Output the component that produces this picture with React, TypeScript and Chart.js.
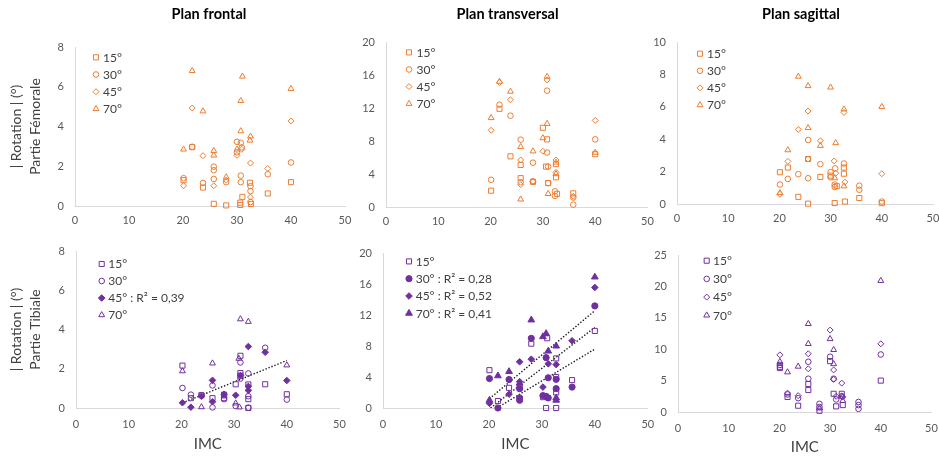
import React, { useEffect, useRef } from 'react';
import { Chart, registerables } from 'chart.js';
import { drawPoint } from 'chart.js/helpers';

Chart.register(...registerables);

const ORANGE = '#ED7D31';
const PURPLE = '#7030A0';
const FONT = 'Lato, "Open Sans", sans-serif';

type Pt = [number, number];

// ---------- labels ----------
const panelTitles = ['Plan frontal', 'Plan transversal', 'Plan sagittal'];
const yTitleFem = ['| Rotation | (°)', 'Partie Fémorale'];
const yTitleTib = ['| Rotation | (°)', 'Partie Tibiale'];
const xTitle = 'IMC';
const legendPlain = ['15°', '30°', '45°', '70°'];
const legendTibFrontal = ['15°', '30°', '45° : R² = 0,39', '70°'];
const legendTibTrans = ['15°', '30° : R² = 0,28', '45° : R² = 0,52', '70° : R² = 0,41'];

// ---------- axes ----------
const xMin = 0;
const xMax = 50;
const xStep = 10;
const yMaxFem = [8, 20, 10];
const yStepFem = [2, 4, 2];
const yMaxTib = [8, 20, 25];
const yStepTib = [2, 4, 5];

// ---------- Partie Fémorale, Plan frontal ----------
const femFront15: Pt[] = [[20.1, 1.3], [21.7, 2.96], [23.7, 0.93], [25.7, 0.11], [28, 0.03], [30.6, 0.17], [30.6, 0.05], [31.0, 0.46], [32.4, 1.17], [32.6, 0.1], [35.7, 0.63], [40, 1.2]];
const femFront30: Pt[] = [[20.1, 1.4], [21.7, 2.98], [23.7, 1.16], [25.7, 1.98], [25.7, 1.8], [25.7, 1.36], [28, 1.2], [30.0, 3.23], [30.0, 2.7], [30.7, 3.18], [30.9, 2.95], [30.7, 1.53], [30.7, 1.2], [32.5, 1.0], [32.5, 0.75], [32.5, 0.2], [35.7, 1.6], [40, 2.19]];
const femFront45: Pt[] = [[20.1, 1.02], [21.7, 4.93], [23.7, 2.53], [25.7, 1.02], [28, 1.3], [30.0, 2.55], [30.9, 2.85], [32.5, 2.16], [32.5, 0.45], [35.7, 1.89], [40, 4.28]];
const femFront70: Pt[] = [[20.1, 2.85], [21.7, 6.8], [23.7, 4.77], [25.7, 2.78], [25.7, 2.55], [28, 1.45], [30.0, 2.85], [30.7, 5.29], [30.7, 3.77], [31.0, 6.52], [32.5, 3.5], [32.4, 3.3], [40, 5.9]];

// ---------- Partie Fémorale, Plan transversal ----------
const femTrans15: Pt[] = [[20.1, 1.98], [21.7, 11.9], [23.8, 6.14], [25.75, 5.1], [25.75, 3.5], [28.1, 3.05], [30.0, 9.6], [30.8, 8.2], [30.6, 4.9], [31.0, 2.9], [32.5, 5.2], [32.5, 3.6], [32.7, 1.6], [35.8, 1.65], [40, 6.4]];
const femTrans30: Pt[] = [[20.1, 3.3], [21.7, 12.4], [23.8, 11.07], [25.75, 8.16], [25.75, 3.0], [28.1, 5.37], [28.1, 3.1], [30.8, 14.1], [30.8, 6.6], [31.0, 4.9], [31.0, 2.9], [32.3, 1.9], [32.3, 1.35], [35.8, 1.15], [35.8, 0.28], [40, 8.2]];
const femTrans45: Pt[] = [[20.1, 9.3], [21.7, 15.1], [23.8, 13.0], [25.75, 5.7], [25.75, 2.7], [28.1, 3.1], [30.0, 6.76], [30.8, 15.4], [32.5, 5.7], [32.5, 4.2], [35.8, 1.3], [40, 10.5]];
const femTrans70: Pt[] = [[20.1, 10.8], [21.7, 15.2], [23.8, 14.0], [25.75, 7.3], [25.75, 0.93], [28.1, 6.76], [30.0, 8.36], [30.8, 15.8], [30.8, 10.1], [31.0, 1.6], [32.5, 5.4], [32.5, 4.0], [40, 6.6]];

// ---------- Partie Fémorale, Plan sagittal ----------
const femSag15: Pt[] = [[20.1, 1.96], [21.65, 2.25], [23.7, 0.44], [25.6, 2.78], [25.6, 0.02], [28, 1.67], [30.0, 1.75], [30.8, 0.06], [31.2, 1.1], [32.6, 2.25], [32.6, 1.87], [32.8, 0.15], [35.6, 0.37], [40, 0.05]];
const femSag30: Pt[] = [[20.1, 1.2], [21.65, 1.55], [23.7, 1.84], [25.6, 3.95], [25.6, 1.59], [28, 2.46], [30.0, 1.97], [30.0, 1.65], [30.9, 2.2], [30.8, 1.2], [30.8, 1.05], [32.6, 2.5], [35.6, 1.13], [35.6, 0.88], [40, 0.15]];
const femSag45: Pt[] = [[20.1, 0.6], [21.65, 2.63], [23.7, 4.6], [25.6, 5.74], [25.6, 2.78], [28, 3.9], [30.7, 2.66], [31.0, 1.9], [32.6, 5.65], [32.8, 1.35], [40, 1.87]];
const femSag70: Pt[] = [[20.1, 0.69], [21.65, 3.33], [23.7, 7.87], [25.6, 7.29], [25.6, 4.7], [28, 3.6], [30.0, 7.2], [31.0, 3.77], [30.8, 1.6], [32.6, 5.85], [32.6, 1.1], [40, 6.0]];

// ---------- Partie Tibiale, Plan frontal ----------
const tibFront15: Pt[] = [[20.2, 2.16], [21.8, 0.5], [23.8, 0.65], [25.9, 0.5], [28.1, 0.68], [28.1, 0.5], [30.3, 1.21], [31.2, 2.66], [31.2, 1.78], [31.2, 1.65], [32.7, 1.2], [32.7, 0.45], [32.7, 0.0], [35.9, 1.21], [40, 0.7]];
const tibFront30: Pt[] = [[20.2, 1.02], [21.8, 0.68], [23.8, 0.65], [25.9, 1.15], [25.9, 0.03], [28.1, 0.45], [30.3, 0.1], [31.2, 2.32], [31.2, 1.5], [32.7, 1.76], [32.7, 0.6], [32.7, 0.02], [35.9, 3.07], [40, 0.43]];
const tibFront45: Pt[] = [[20.2, 0.27], [21.8, 0.04], [23.8, 0.6], [25.9, 1.41], [25.9, 0.32], [28.1, 0.7], [30.3, 0.65], [31.2, 1.65], [32.7, 3.13], [32.7, 1.1], [32.7, 0.9], [35.9, 2.84], [40, 1.4]];
const tibFront70: Pt[] = [[20.2, 1.88], [23.8, 0.05], [25.9, 2.28], [28.1, 0.6], [30.3, 0.24], [30.9, 2.52], [31.2, 4.53], [31.0, 0.04], [32.7, 4.4], [40, 2.18]];
const tibFront45Trend: Pt[] = [[20.2, 0.26], [40, 2.42]];

// ---------- Partie Tibiale, Plan transversal ----------
const tibTrans15: Pt[] = [[20.1, 4.88], [21.7, 0.9], [23.8, 2.6], [25.8, 2.8], [28, 8.3], [30.2, 1.4], [31.0, 9.0], [30.8, 0], [32.7, 6.4], [32.7, 4.0], [32.7, 2.0], [32.7, 0], [35.7, 3.6], [40, 9.94]];
const tibTrans30: Pt[] = [[20.1, 3.8], [21.7, 0], [23.8, 3.67], [25.8, 2.5], [25.8, 1.3], [25.8, 1.0], [28, 8.99], [30.2, 1.6], [30.8, 6.5], [30.8, 1.5], [31.2, 1.3], [31.2, 3.9], [32.7, 3.7], [32.7, 2.5], [35.7, 2.7], [40, 13.17]];
const tibTrans45: Pt[] = [[20.1, 0.6], [23.8, 1.78], [25.8, 5.96], [25.8, 3.4], [28, 6.3], [30.2, 2.7], [31.2, 5.7], [32.7, 5.6], [35.7, 8.68], [40, 15.55]];
const tibTrans70: Pt[] = [[20.1, 1.0], [21.7, 4.15], [23.8, 4.7], [25.8, 3.2], [28, 11.36], [30.2, 9.2], [30.8, 9.6], [31.2, 7.34], [32.7, 7.99], [32.7, 1.3], [32.7, 1.0], [40, 16.9]];
const tibTransTrendA: Pt[] = [[20.1, 1.2], [40, 12.56]];
const tibTransTrendB: Pt[] = [[20.3, 0], [40, 10.4]];
const tibTransTrendC: Pt[] = [[21.5, 0], [40, 7.6]];

// ---------- Partie Tibiale, Plan sagittal ----------
const tibSag15: Pt[] = [[20.1, 7.2], [20.1, 7.0], [21.6, 2.4], [23.7, 1.0], [25.7, 4.45], [25.7, 3.5], [27.9, 0.2], [30.0, 8.1], [30.7, 2.9], [31.2, 0.9], [32.3, 2.9], [32.5, 1.1], [40, 5.0]];
const tibSag30: Pt[] = [[20.1, 7.5], [21.6, 2.8], [23.7, 2.2], [25.7, 8.0], [25.7, 5.3], [27.9, 1.3], [27.9, 0.8], [30.0, 8.8], [30.7, 5.3], [31.2, 2.0], [32.3, 2.5], [35.6, 1.6], [35.6, 1.1], [35.6, 0.5], [40, 9.16]];
const tibSag45: Pt[] = [[20.1, 9.1], [21.6, 3.0], [23.7, 2.6], [25.7, 9.27], [25.7, 6.88], [30.0, 13.04], [30.7, 6.7], [30.7, 5.2], [31.2, 2.5], [32.3, 4.6], [32.5, 2.4], [40, 10.86]];
const tibSag70: Pt[] = [[20.1, 8.0], [21.6, 6.35], [23.7, 7.25], [25.7, 14.04], [25.7, 10.86], [27.9, 0.6], [30.0, 11.64], [30.7, 9.9], [30.7, 7.65], [32.3, 2.5], [32.5, 1.8], [40, 20.9]];

// ---------- marker styles ----------
const MARKERS = [
  { pointStyle: 'rect', radius: 3.6, filledRadius: 3.6 },
  { pointStyle: 'circle', radius: 2.8, filledRadius: 3.1 },
  { pointStyle: 'rectRot', radius: 3.0, filledRadius: 3.3 },
  { pointStyle: 'triangle', radius: 3.4, filledRadius: 3.9 },
];

interface Spec {
  left: number; top: number; w: number; h: number;
  pad: { top: number; right: number; bottom: number; left: number };
  yW: number; xH: number; xTickPad: number; yTickPad: number;
  yMax: number; yStep: number;
  series: Pt[][]; color: string; filled: boolean[]; trends: Pt[][];
  legendText: string[];
  legend: { dx: number; dy: number; pitch: number; textDx: number };
  title?: { text: string; x: number; y: number };
  yTitle?: string[];
  xTitle?: string; xTitlePadBottom?: number;
}

const specs: Spec[] = [
  {
    left: 0, top: 0, w: 360, h: 232, pad: { top: 47, right: 15, bottom: 0, left: 0 }, yW: 75, xH: 26, xTickPad: 8, yTickPad: 11,
    yMax: yMaxFem[0], yStep: yStepFem[0], series: [femFront15, femFront30, femFront45, femFront70], color: ORANGE,
    filled: [false, false, false, false], trends: [], legendText: legendPlain,
    legend: { dx: 21, dy: 10.3, pitch: 17.2, textDx: 28 },
    title: { text: panelTitles[0], x: 209, y: 14 }, yTitle: yTitleFem,
  },
  {
    left: 355, top: 0, w: 310, h: 232, pad: { top: 42, right: 17.5, bottom: 0, left: 0 }, yW: 31, xH: 25, xTickPad: 8, yTickPad: 11,
    yMax: yMaxFem[1], yStep: yStepFem[1], series: [femTrans15, femTrans30, femTrans45, femTrans70], color: ORANGE,
    filled: [false, false, false, false], trends: [], legendText: legendPlain,
    legend: { dx: 23, dy: 10.4, pitch: 17.1, textDx: 30.5 },
    title: { text: panelTitles[1], x: 152.5, y: 14 },
  },
  {
    left: 640, top: 0, w: 310, h: 232, pad: { top: 42, right: 17, bottom: 0, left: 0 }, yW: 37, xH: 28, xTickPad: 8, yTickPad: 11,
    yMax: yMaxFem[2], yStep: yStepFem[2], series: [femSag15, femSag30, femSag45, femSag70], color: ORANGE,
    filled: [false, false, false, false], trends: [], legendText: legendPlain,
    legend: { dx: 23, dy: 11.7, pitch: 17.1, textDx: 30 },
    title: { text: panelTitles[2], x: 161, y: 14 },
  },
  {
    left: 0, top: 232, w: 360, h: 225, pad: { top: 19, right: 20.5, bottom: 0, left: 0 }, yW: 76, xH: 49, xTickPad: 10, yTickPad: 11,
    yMax: yMaxTib[0], yStep: yStepTib[0], series: [tibFront15, tibFront30, tibFront45, tibFront70], color: PURPLE,
    filled: [false, false, true, false], trends: [tibFront45Trend], legendText: legendTibFrontal,
    legend: { dx: 25.7, dy: 13, pitch: 17, textDx: 32.3 },
    yTitle: yTitleTib, xTitle, xTitlePadBottom: 4.3,
  },
  {
    left: 355, top: 232, w: 310, h: 225, pad: { top: 21, right: 17.2, bottom: 0, left: 0 }, yW: 28, xH: 49, xTickPad: 10, yTickPad: 11,
    yMax: yMaxTib[1], yStep: yStepTib[1], series: [tibTrans15, tibTrans30, tibTrans45, tibTrans70], color: PURPLE,
    filled: [false, true, true, true], trends: [tibTransTrendA, tibTransTrendB, tibTransTrendC], legendText: legendTibTrans,
    legend: { dx: 26, dy: 8.4, pitch: 17.3, textDx: 32.7 },
    xTitle, xTitlePadBottom: 4.3,
  },
  {
    left: 640, top: 232, w: 310, h: 225, pad: { top: 23, right: 18.5, bottom: 0, left: 0 }, yW: 38, xH: 45, xTickPad: 9.5, yTickPad: 11,
    yMax: yMaxTib[2], yStep: yStepTib[2], series: [tibSag15, tibSag30, tibSag45, tibSag70], color: PURPLE,
    filled: [false, false, false, false], trends: [], legendText: legendPlain,
    legend: { dx: 28.7, dy: 5.7, pitch: 18.2, textDx: 35 },
    xTitle, xTitlePadBottom: 1,
  },
];

function overlayPlugin(spec: Spec) {
  return {
    id: 'overlay',
    afterDraw(chart: any) {
      const ctx: CanvasRenderingContext2D = chart.ctx;
      const ca = chart.chartArea;
      ctx.save();
      if (spec.title) {
        ctx.font = `bold 14.5px ${FONT}`;
        ctx.fillStyle = '#000000';
        ctx.textAlign = 'center';
        ctx.textBaseline = 'middle';
        ctx.fillText(spec.title.text, spec.title.x, spec.title.y);
      }
      spec.legendText.forEach((text, i) => {
        const m = MARKERS[i];
        const filled = spec.filled[i];
        const x = ca.left + spec.legend.dx;
        const y = ca.top + spec.legend.dy + i * spec.legend.pitch;
        ctx.fillStyle = filled ? spec.color : 'rgba(0,0,0,0)';
        ctx.strokeStyle = spec.color;
        ctx.lineWidth = 1;
        drawPoint(ctx, { pointStyle: m.pointStyle as any, rotation: 0, radius: filled ? m.filledRadius : m.radius, borderWidth: 1 }, x, y);
        ctx.fillStyle = '#404040';
        ctx.font = `12px ${FONT}`;
        ctx.textAlign = 'left';
        ctx.textBaseline = 'middle';
        ctx.fillText(text, ca.left + spec.legend.textDx, y + 0.5);
      });
      ctx.restore();
    },
  };
}

function buildConfig(spec: Spec): any {
  const datasets: any[] = spec.series.map((pts, i) => {
    const m = MARKERS[i];
    const filled = spec.filled[i];
    return {
      label: spec.legendText[i],
      data: pts.map(([x, y]) => ({ x, y })),
      pointStyle: m.pointStyle,
      pointRadius: filled ? m.filledRadius : m.radius,
      pointHoverRadius: filled ? m.filledRadius : m.radius,
      borderColor: spec.color,
      backgroundColor: filled ? spec.color : 'rgba(0,0,0,0)',
      pointBorderWidth: 1,
      borderWidth: 1,
      showLine: false,
      clip: false,
    };
  });
  spec.trends.forEach((t) => {
    datasets.push({
      label: 'trend',
      data: t.map(([x, y]) => ({ x, y })),
      showLine: true,
      borderColor: '#1a1a1a',
      borderWidth: 1.4,
      borderDash: [1.4, 1.8],
      pointRadius: 0,
      pointHoverRadius: 0,
      fill: false,
      clip: 0,
    });
  });

  const tickFont = { family: FONT, size: 11 };
  return {
    type: 'scatter',
    data: { datasets },
    plugins: [overlayPlugin(spec)],
    options: {
      responsive: false,
      maintainAspectRatio: false,
      animation: false,
      devicePixelRatio: 1,
      events: [],
      layout: { padding: spec.pad },
      plugins: { legend: { display: false }, tooltip: { enabled: false }, title: { display: false } },
      scales: {
        x: {
          type: 'linear',
          position: 'bottom',
          min: xMin,
          max: xMax,
          grid: { display: false, drawTicks: false },
          border: { display: true, color: '#D9D9D9', width: 1 },
          ticks: { stepSize: xStep, font: tickFont, color: '#595959', padding: spec.xTickPad, maxRotation: 0 },
          title: spec.xTitle
            ? { display: true, text: spec.xTitle, color: '#404040', font: { family: FONT, size: 15, lineHeight: 1.2 }, padding: { top: 0, bottom: spec.xTitlePadBottom || 0 } }
            : { display: false },
          afterFit: (s: any) => { s.height = spec.xH; },
        },
        y: {
          type: 'linear',
          position: 'left',
          min: 0,
          max: spec.yMax,
          grid: { display: false, drawTicks: false },
          border: { display: true, color: '#D9D9D9', width: 1 },
          ticks: { stepSize: spec.yStep, font: tickFont, color: '#595959', padding: spec.yTickPad },
          title: spec.yTitle
            ? { display: true, text: spec.yTitle, color: '#404040', font: { family: FONT, size: 14, lineHeight: '19px' }, padding: { top: 6.5, bottom: 0 } }
            : { display: false },
          afterFit: (s: any) => { s.width = spec.yW; },
        },
      },
    },
  };
}

function Panel({ spec }: { spec: Spec }) {
  const ref = useRef<HTMLCanvasElement>(null);
  useEffect(() => {
    if (!ref.current) return;
    const chart = new Chart(ref.current, buildConfig(spec));
    return () => chart.destroy();
  }, [spec]);
  return (
    <canvas
      ref={ref}
      width={spec.w}
      height={spec.h}
      style={{ position: 'absolute', left: spec.left, top: spec.top, width: spec.w, height: spec.h }}
    />
  );
}

export default function App() {
  return (
    <div style={{ position: 'fixed', left: 0, top: 0, width: 939, height: 457, background: '#ffffff', overflow: 'hidden' }}>
      {specs.map((s, i) => (
        <Panel key={i} spec={s} />
      ))}
    </div>
  );
}
